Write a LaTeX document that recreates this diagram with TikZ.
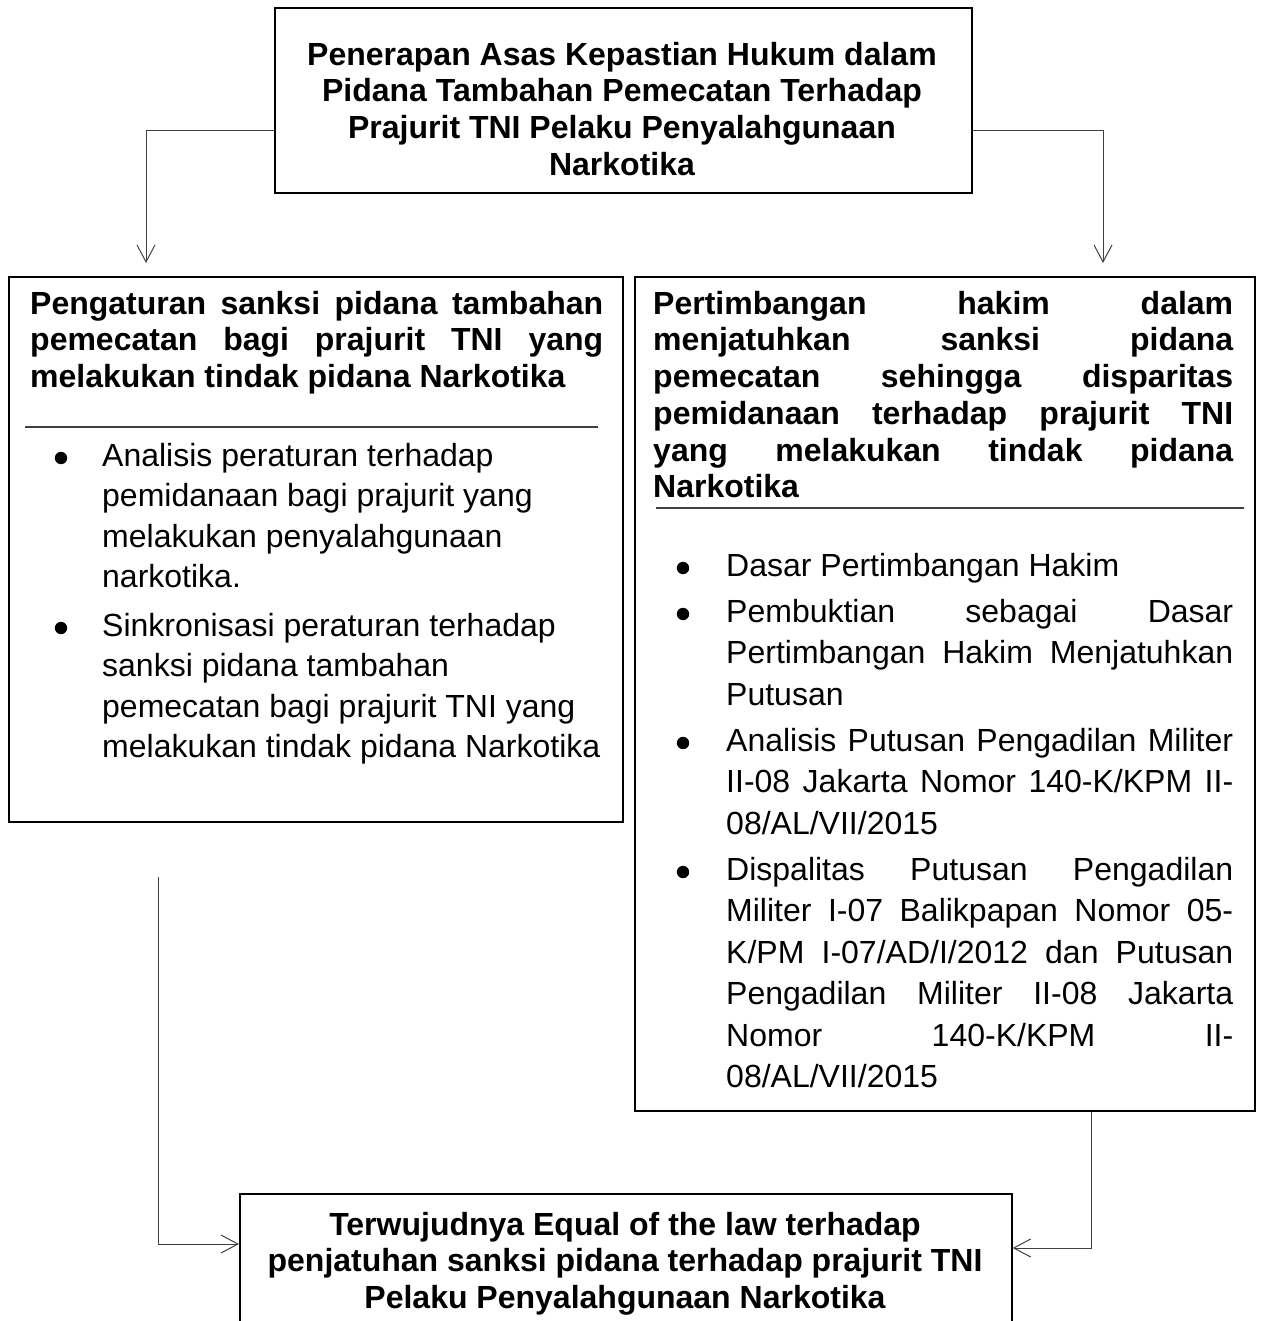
\documentclass[tikz,border=0pt]{standalone}
\usepackage{fontspec}
\setmainfont{Liberation Sans}
\usetikzlibrary{arrows.meta}
\begin{document}
\begin{tikzpicture}[x=1pt,y=-1pt,
  box/.style={draw=black, line width=1.6pt, inner sep=0pt, anchor=north west},
  conn/.style={draw=black!75, line width=1pt, -{Straight Barb[length=17pt,width=18pt]}},
  sepline/.style={draw=black!75, line width=1.2pt},
  head/.style={inner sep=0pt, font=\fontsize{32}{36.7}\selectfont\bfseries},
  bodyl/.style={inner sep=0pt, font=\fontsize{32}{40.5}\selectfont},
  bodyr/.style={inner sep=0pt, font=\fontsize{32}{41.5}\selectfont},
  dot/.style={fill=black}]
\useasboundingbox (0,0) rectangle (1261,1321);
\def\st{\rule{0pt}{25pt}}
\tolerance=10000 \hbadness=10000 \hyphenpenalty=10000

% boxes
\node[box, minimum width=697pt, minimum height=185pt] (T) at (274,7) {};
\node[box, minimum width=614pt, minimum height=545pt] (L) at (8,276) {};
\node[box, minimum width=620pt, minimum height=834pt] (R) at (634,276) {};
\node[box, minimum width=772pt, minimum height=150pt] (B) at (239,1193) {};

% top text
\node[head, align=center, anchor=north] (Tt) at (622,40)
 {\st Penerapan Asas Kepastian Hukum dalam\\Pidana Tambahan Pemecatan Terhadap\\Prajurit TNI Pelaku Penyalahgunaan\\Narkotika};

% left box
\node[head, text width=573pt, align=justify, anchor=north west] (Lh) at (30,289)
 {\st Pengaturan sanksi pidana tambahan\linebreak pemecatan bagi prajurit TNI yang\linebreak melakukan tindak pidana Narkotika};
\draw[sepline] (25,427) -- (598,427);
\node[bodyl, align=left, anchor=north west] (L1) at (102,441)
 {\st Analisis peraturan terhadap\\pemidanaan bagi prajurit yang\\melakukan penyalahgunaan\\narkotika.};
\node[bodyl, align=left, anchor=north west] (L2) at (102,611)
 {\st Sinkronisasi peraturan terhadap\\sanksi pidana tambahan\\pemecatan bagi prajurit TNI yang\\melakukan tindak pidana Narkotika};
\fill[dot] (61,458) circle (6.2);
\fill[dot] (61,628) circle (6.2);

% right box
\node[head, text width=580pt, align=justify, anchor=north west] (Rh) at (653,289)
 {\st Pertimbangan hakim dalam\linebreak menjatuhkan sanksi pidana\linebreak pemecatan sehingga disparitas\linebreak pemidanaan terhadap prajurit TNI\linebreak yang melakukan tindak pidana\linebreak Narkotika};
\draw[sepline] (656,508) -- (1244,508);
\node[bodyr, text width=507pt, align=justify, anchor=north west] (R1) at (726,551)
 {\st Dasar Pertimbangan Hakim};
\node[bodyr, text width=507pt, align=justify, anchor=north west] (R2) at (726,597)
 {\st Pembuktian sebagai Dasar\linebreak Pertimbangan Hakim Menjatuhkan\linebreak Putusan};
\node[bodyr, text width=507pt, align=justify, anchor=north west] (R3) at (726,726)
 {\st Analisis Putusan Pengadilan Militer\linebreak II-08 Jakarta Nomor 140-K/KPM II-\linebreak 08/AL/VII/2015};
\node[bodyr, text width=507pt, align=justify, anchor=north west] (R4) at (726,855)
 {\st Dispalitas Putusan Pengadilan\linebreak Militer I-07 Balikpapan Nomor 05-\linebreak K/PM I-07/AD/I/2012 dan Putusan\linebreak Pengadilan Militer II-08 Jakarta\linebreak Nomor 140-K/KPM II-\linebreak 08/AL/VII/2015};
\fill[dot] (683,568) circle (6.2);
\fill[dot] (683,614) circle (6.2);
\fill[dot] (683,743) circle (6.2);
\fill[dot] (683,872) circle (6.2);

% bottom text
\node[head, align=center, anchor=north] (Bt) at (625,1210)
 {\st Terwujudnya Equal of the law terhadap\\penjatuhan sanksi pidana terhadap prajurit TNI\\Pelaku Penyalahgunaan Narkotika};

% connectors
\coordinate (tl) at (146,131);
\coordinate (tr) at (1103,131);
\coordinate (bl0) at (158,877);
\coordinate (bl1) at (158,1244);
\coordinate (br) at (1091,1248);
\draw[conn, shorten >=13pt] (T.west |- tl) -| (L.north -| tl);
\draw[conn, shorten >=13pt] (T.east |- tr) -| (R.north -| tr);
\draw[conn] (bl0) |- (B.west |- bl1);
\draw[conn] (R.south -| br) |- (B.east |- br);
\end{tikzpicture}
\end{document}
